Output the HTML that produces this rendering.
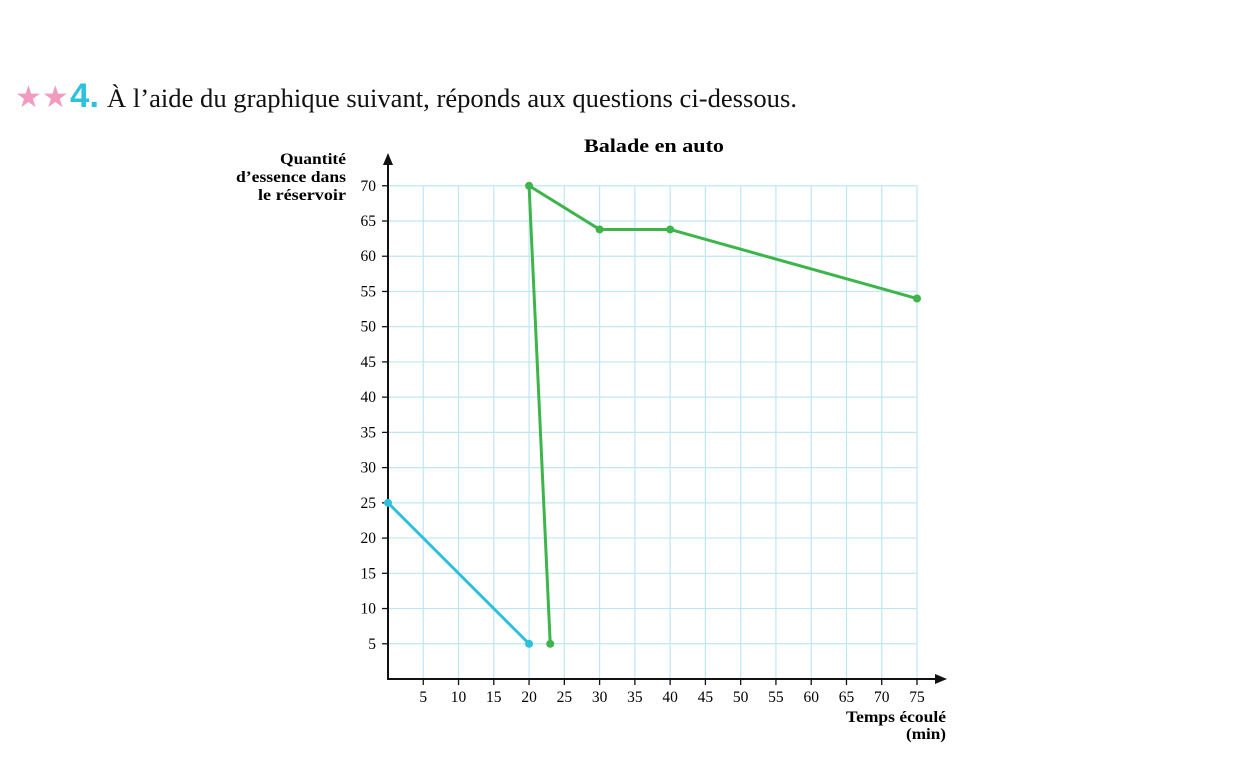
<!DOCTYPE html>
<html><head><meta charset="utf-8"><style>
body{margin:0;background:#fff;width:1256px;height:763px;overflow:hidden;font-family:"Liberation Serif",serif;}
</style></head><body>
<svg width="1256" height="763" id="svg" style="position:absolute;left:0;top:0">
<g>
<text x="15" y="107" font-size="30" fill="#f29bc0" font-family="DejaVu Sans">★★</text>
<text x="70" y="107" font-size="34" font-weight="bold" fill="#2ec1de" font-family="Liberation Sans Narrow, Liberation Sans, sans-serif" textLength="29" lengthAdjust="spacingAndGlyphs">4.</text>
<text x="107" y="107" font-size="26" fill="#111" textLength="690" lengthAdjust="spacingAndGlyphs">À l’aide du graphique suivant, réponds aux questions ci-dessous.</text>
</g>
<text x="584" y="152" font-size="19" font-weight="bold" textLength="140" lengthAdjust="spacingAndGlyphs">Balade en auto</text>
<g font-size="16" font-weight="bold" text-anchor="end">
<text x="346" y="164" textLength="66" lengthAdjust="spacingAndGlyphs">Quantité</text><text x="346" y="182" textLength="110" lengthAdjust="spacingAndGlyphs">d’essence dans</text><text x="346" y="200" textLength="88" lengthAdjust="spacingAndGlyphs">le réservoir</text>
</g>
<g font-size="16" font-weight="bold" text-anchor="end">
<text x="946" y="722" textLength="100" lengthAdjust="spacingAndGlyphs">Temps écoulé</text><text x="946" y="739" textLength="40" lengthAdjust="spacingAndGlyphs">(min)</text>
</g>
<g id="grid"></g><g id="axes"></g><g id="series"></g>
</svg>
<script>
const xTicks=[5,10,15,20,25,30,35,40,45,50,55,60,65,70,75];
const yTicks=[5,10,15,20,25,30,35,40,45,50,55,60,65,70];
const blueX=[0,20];
const blueY=[25,5];
const greenX=[23,20,30,40,75];
const greenY=[5,70,63.8,63.8,54];
const X=v=>388+v*(529/75);
const Y=v=>679-v*(458/65);
const NS="http://www.w3.org/2000/svg";
function mk(tag,at,parent){const e=document.createElementNS(NS,tag);for(const k in at)e.setAttribute(k,at[k]);document.getElementById(parent).appendChild(e);return e;}
xTicks.forEach(v=>{
 const l=mk('line',{x1:X(v),x2:X(v),y1:Y(70),y2:Y(0),stroke:'#bfe6f5','stroke-width':1.2},'grid');
 
 
 const t=mk('line',{x1:X(v),x2:X(v),y1:Y(0),y2:Y(0)+6,stroke:'#111','stroke-width':1.3},'axes');
 
 
 const tx=mk('text',{x:X(v),y:702,'font-size':15.5,'text-anchor':'middle'},'axes');tx.textContent=v;
 
 
});
yTicks.forEach(v=>{
 const l=mk('line',{x1:X(0),x2:X(75),y1:Y(v),y2:Y(v),stroke:'#bfe6f5','stroke-width':1.2},'grid');
 
 
 const t=mk('line',{x1:X(0)-6,x2:X(0),y1:Y(v),y2:Y(v),stroke:'#111','stroke-width':1.3},'axes');
 
 
 const tx=mk('text',{x:376,y:Y(v)+5,'font-size':15.5,'text-anchor':'end'},'axes');tx.textContent=v;
 
 
});
const ax=mk('path',{d:`M${X(0)} 162 V${Y(0)} H940`,fill:'none',stroke:'#111','stroke-width':2},'axes');


const ar1=mk('path',{d:`M${X(0)} 153 l-5 12 h10 z`,fill:'#111'},'axes');


const ar2=mk('path',{d:`M947 ${Y(0)} l-12 -5 v10 z`,fill:'#111'},'axes');


function series(xs,ys,col,name){
 const pl=mk('polyline',{points:xs.map((x,i)=>X(x)+','+Y(ys[i])).join(' '),fill:'none',stroke:col,'stroke-width':3,'stroke-linejoin':'round'},'series');
 
 
 xs.forEach((x,i)=>{const c=mk('circle',{cx:X(x),cy:Y(ys[i]),r:4,fill:col},'series');
 
 });
}
series(blueX,blueY,'#2ec1de','blue-series');
series(greenX,greenY,'#3db54a','green-series');
</script>
</body></html>
